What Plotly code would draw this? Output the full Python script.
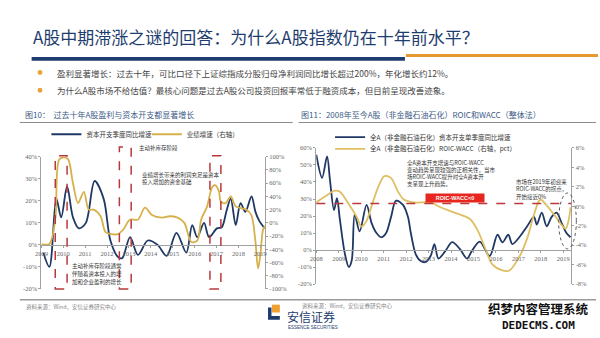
import plotly.graph_objects as go

W, H = 600, 338


def px(x):
    return x / W


def py(y):
    return 1 - y / H


# ---------------- data ----------------
# Figure 10 : capex growth (left axis, %) and profit growth (right axis, %)
c1_capex_x = [2009.09, 2009.36, 2009.68, 2009.9, 2010.17, 2010.44, 2010.71, 2011.03, 2011.43,
              2011.84, 2012.15, 2012.5, 2012.69, 2013.05, 2013.41, 2013.86, 2014.31, 2014.72,
              2015.17, 2015.62, 2015.89, 2016.12, 2016.43, 2016.66, 2017.02, 2017.24, 2017.46,
              2017.65, 2017.88, 2018.1, 2018.32, 2018.6, 2018.78, 2018.95, 2019.2]
c1_capex_y = [-3.6, -10, 21, 12.5, 26.5, 12.5, 7.5, 10, 29,
              21, 2, -5.5, -6, 3.5, -4.5, 2, 0, -5,
              5.5, -3.5, 9, 3.5, 10, 3.5, 7.5, 8, 15.5,
              21, 9, 19, 15, 22, 15, 11, 7.5]
c1_profit_x = [2009.0, 2009.36, 2009.63, 2009.81, 2010.04, 2010.22, 2010.44, 2010.67, 2010.94,
               2011.16, 2011.39, 2011.7, 2011.93, 2012.2, 2012.5, 2012.74, 2013.05, 2013.41,
               2013.73, 2014.05, 2014.5, 2014.86, 2015.22, 2015.53, 2015.85, 2016.12, 2016.3,
               2016.57, 2016.8, 2016.93, 2017.11, 2017.2, 2017.42, 2017.65, 2017.88, 2018.15,
               2018.37, 2018.59, 2018.77, 2018.9, 2019.0, 2019.13, 2019.22]
c1_profit_y = [-32, -32, 5, 96, 99, 96, 60, 30, 47,
               20, 20, 10, -14, -17, -17, -10, 5, 5,
               23, 12, 8, 10, 8, 0, -29, -27, 5,
               25, 54, 57, 48, 32, 30, 40, 25, 22,
               20, 12, -25, -69, -50, -10, -5]
c1_year_ticks = list(range(2009, 2020))
c1_left_ticks = [-20, -10, 0, 10, 20, 30, 40]
c1_right_ticks = [-100, -80, -60, -40, -20, 0, 20, 40, 60, 80, 100]

# Figure 11 : capex growth (left axis, %) and ROIC-WACC (right axis, pct)
c2_capex_x = [2008.0, 2008.26, 2008.48, 2008.61, 2008.79, 2008.92, 2009.05, 2009.27, 2009.45,
              2009.58, 2009.71, 2009.93, 2010.24, 2010.46, 2010.68, 2010.9, 2011.11, 2011.33,
              2011.55, 2011.86, 2012.08, 2012.21, 2012.43, 2012.65, 2012.87, 2013.09, 2013.26,
              2013.44, 2013.75, 2014.05, 2014.4, 2014.71, 2014.93, 2015.28, 2015.72, 2016.07,
              2016.29, 2016.55, 2016.73, 2017.04, 2017.39, 2017.69, 2017.82, 2018.04, 2018.26,
              2018.48, 2018.7, 2018.92, 2019.14, 2019.32]
c2_capex_y = [56, 42.5, 55, 41, 23.5, 30.5, 18, -2, -10,
              -6, 21, 11, 26.5, 16, 10, 7.5, 10, 19.5,
              29, 26.5, 19.5, 10, -2.5, -6.5, -7, -3.5, 3.5,
              -5, -0.5, 4.6, 0.5, -5, -0.5, 5, -3.5, 9,
              4.5, 9, 3.5, 7.5, 14, 19.5, 15, 22, 14,
              19.5, 22, 16, 10, 7.5]
c2_roic_x = [2008.0, 2008.39, 2008.83, 2009.05, 2009.45, 2009.8, 2010.02, 2010.24, 2010.46,
             2010.76, 2011.03, 2011.33, 2011.64, 2011.9, 2012.34, 2013.09, 2013.53, 2014.1,
             2014.84, 2015.19, 2015.5, 2015.85, 2016.29, 2016.6, 2017.04, 2017.39, 2017.65,
             2017.9, 2018.0, 2018.22, 2018.57, 2018.88, 2019.1, 2019.23, 2019.32]
c2_roic_y = [0.4, 1.0, 1.6, 1.5, 0.2, -1.1, -2.1, -1.5, 0.0,
             2.0, 3.1, 2.9, 1.5, 0.7, 0.4, 0.4, -0.1, -0.6,
             -1.3, -2.5, -4.2, -6.0, -6.6, -6.6, -5.2, -3.3, -1.2,
             0.5, 0.7, 0.2, -0.8, -1.8, -2.3, -1.5, -0.1]
c2_year_ticks = list(range(2008, 2020))
c2_left_ticks = [-20, -10, 0, 10, 20, 30, 40, 50, 60]
c2_right_ticks = [-8, -6, -4, -2, 0, 2, 4, 6]

NAVY = "#1f3864"
GOLD1 = "#d6b04a"
GOLD2 = "#dfbf62"
RED = "#b8383b"
AXC = "#a0a0a0"
CJK = "Noto Sans CJK SC"
SERIF = "Liberation Serif"

# ---------------- layout geometry ----------------
c1_xd = [px(35), px(262)]
c1_yd = [py(291), py(156)]
c2_xd = [px(314), px(573)]
c2_yd = [py(286), py(147)]
c1_zero = c1_yd[0] + (0 - c1_left_ticks[0]) / (c1_left_ticks[-1] - c1_left_ticks[0]) * (c1_yd[1] - c1_yd[0])
c2_zero = c2_yd[0] + (0 - c2_left_ticks[0]) / (c2_left_ticks[-1] - c2_left_ticks[0]) * (c2_yd[1] - c2_yd[0])

fig = go.Figure()
fig.add_trace(go.Scatter(x=c1_capex_x, y=c1_capex_y, mode="lines", name="资本开支季度同比增速",
                         line=dict(color=NAVY, width=1.8, shape="spline", smoothing=0.9),
                         xaxis="x", yaxis="y", legend="legend"))
fig.add_trace(go.Scatter(x=c1_profit_x, y=c1_profit_y, mode="lines", name="业绩增速（右轴）",
                         line=dict(color=GOLD1, width=1.8, shape="spline", smoothing=0.9),
                         xaxis="x", yaxis="y2", legend="legend2"))
fig.add_trace(go.Scatter(x=c2_capex_x, y=c2_capex_y, mode="lines",
                         name="全A（非金融石油石化）资本开支单季度同比增速",
                         line=dict(color=NAVY, width=1.8, shape="spline", smoothing=0.9),
                         xaxis="x2", yaxis="y3", legend="legend3"))
fig.add_trace(go.Scatter(x=c2_roic_x, y=c2_roic_y, mode="lines",
                         name="全A（非金融石油石化）ROIC-WACC（右轴，pct）",
                         line=dict(color=GOLD2, width=1.8, shape="spline", smoothing=0.9),
                         xaxis="x2", yaxis="y4", legend="legend4"))

tickfont = dict(family=SERIF, size=6.5, color="#666")
common_ax = dict(showgrid=False, zeroline=False, showline=True, linecolor=AXC, linewidth=1,
                 ticks="outside", ticklen=2, tickcolor=AXC, tickfont=tickfont, fixedrange=True)

legfont = dict(family=CJK, size=6.5, color="#333")


def leg(x, y):
    return dict(x=x, y=y, xanchor="left", yanchor="middle", orientation="h",
                bgcolor="rgba(0,0,0,0)", font=legfont, itemwidth=30, tracegroupgap=0)


fig.update_layout(
    width=W, height=H, margin=dict(l=0, r=0, t=0, b=0),
    paper_bgcolor="white", plot_bgcolor="white",
    font=dict(family=CJK, color="#333"),
    showlegend=True,
    xaxis=dict(domain=c1_xd, range=[2009, 2019.22], anchor="free", position=c1_zero,
               tickvals=c1_year_ticks, ticktext=[str(v) for v in c1_year_ticks], **common_ax),
    yaxis=dict(domain=c1_yd, range=[-20, 40], anchor="x", tickvals=c1_left_ticks,
               ticktext=[f"{v}%" for v in c1_left_ticks], **common_ax),
    yaxis2=dict(overlaying="y", side="right", anchor="x", range=[-100, 100],
                tickvals=c1_right_ticks, ticktext=[f"{v}%" for v in c1_right_ticks], **common_ax),
    xaxis2=dict(domain=c2_xd, range=[2008, 2019.36], anchor="free", position=c2_zero,
                tickvals=c2_year_ticks, ticktext=[str(v) for v in c2_year_ticks], **common_ax),
    yaxis3=dict(domain=c2_yd, range=[-20, 60], anchor="x2", tickvals=c2_left_ticks,
                ticktext=[f"{v}%" for v in c2_left_ticks], **common_ax),
    yaxis4=dict(overlaying="y3", side="right", anchor="x2", range=[-8, 6],
                tickvals=c2_right_ticks, ticktext=[f"{v}%" for v in c2_right_ticks], **common_ax),
    legend=leg(px(40), py(133)),
    legend2=leg(px(142), py(133)),
    legend3=leg(px(328), py(136)),
    legend4=leg(px(328), py(148)),
)

shapes = []
# title underline bars
shapes.append(dict(type="rect", xref="paper", yref="paper", x0=px(25), x1=px(404), y0=py(58), y1=py(54),
                   fillcolor="#1e3d6e", line=dict(width=0)))
shapes.append(dict(type="rect", xref="paper", yref="paper", x0=px(405), x1=px(600), y0=py(54), y1=py(51),
                   fillcolor="#e59a2f", line=dict(width=0)))
# chart title underlines
for a, b in [(13, 290), (296, 598)]:
    shapes.append(dict(type="line", xref="paper", yref="paper", x0=px(a), x1=px(b), y0=py(121), y1=py(121),
                       line=dict(color="#8a8a8a", width=1)))
# bottom rule
shapes.append(dict(type="line", xref="paper", yref="paper", x0=px(13), x1=px(598), y0=py(302), y1=py(302),
                   line=dict(color="#9a9a9a", width=1.5)))
# bullet dots
for yy in (70, 88):
    shapes.append(dict(type="circle", xref="paper", yref="paper", x0=px(31), x1=px(36),
                       y0=py(yy + 2.5), y1=py(yy - 2.5), fillcolor="#e8a33a", line=dict(width=0)))
# red dashed boxes on chart 1
for x0, x1, top in [(2009.63, 2010.17, 155), (2012.56, 2013.1, 146), (2016.7, 2017.2, 155)]:
    shapes.append(dict(type="rect", xref="x", yref="paper", x0=x0, x1=x1, y0=py(291), y1=py(top),
                       line=dict(color=RED, width=1.5, dash="dash"), fillcolor="rgba(0,0,0,0)"))
# ROIC-WACC = 0 dashed line on chart 2
shapes.append(dict(type="line", xref="paper", yref="y4", x0=px(314), x1=px(573), y0=0.3, y1=0.3,
                   line=dict(color=RED, width=1.5, dash="dash")))
# dashed ellipse on chart 2
shapes.append(dict(type="circle", xref="paper", yref="paper", x0=px(560), x1=px(578), y0=py(250), y1=py(193),
                   line=dict(color="#555", width=1, dash="dot")))
# logo
shapes.append(dict(type="rect", xref="paper", yref="paper", x0=px(269), x1=px(277), y0=py(315), y1=py(307),
                   fillcolor="#f0a030", line=dict(width=0)))
Lpts = [(265, 310), (268.5, 310), (268.5, 318.5), (277, 318.5), (277, 322.5), (265, 322.5)]
path = "M" + " L".join(f"{px(a):.5f},{py(b):.5f}" for a, b in Lpts) + " Z"
shapes.append(dict(type="path", xref="paper", yref="paper", path=path, fillcolor="#1d3c6e", line=dict(width=0)))
fig.update_layout(shapes=shapes)

ann = []


def T(x, y, s, size, color="#333", xanchor="left", family=CJK, bold=False, **kw):
    d = dict(xref="paper", yref="paper", x=px(x), y=py(y), text=s, showarrow=False,
             xanchor=xanchor, yanchor="middle", align="left",
             font=dict(family=family, size=size, color=color, weight=700 if bold else 400))
    d.update(kw)
    ann.append(d)


T(24, 33, "A股中期滞涨之谜的回答：为什么A股指数仍在十年前水平？", 17, "#1e3d6e")
T(49, 70, "盈利显著增长：过去十年，可比口径下上证综指成分股归母净利润同比增长超过200%，年化增长约12%。", 8.5, "#444")
T(49, 88, "为什么A股市场不给估值？最核心问题是过去A股公司投资回报率常低于融资成本，但目前呈现改善迹象。", 8.5, "#444")
T(16, 113, "图10：  过去十年A股盈利与资本开支都显著增长", 8, "#3b5a86")
T(296, 113, "图11：2008年至今A股（非金融石油石化）ROIC和WACC（整体法）", 8, "#3b5a86")

# chart 1 notes
T(132, 147, "主动补库存阶段", 5.5)
T(135, 175, "业绩增长带来的利润充足是资本", 5.5)
T(135, 182, "投入增加的资金基础", 5.5)
T(64, 268, "主动补库存阶段通常", 5.5)
T(64, 276, "伴随着资本投入的增", 5.5)
T(64, 284, "加和企业盈利的增长", 5.5)

# chart 2 notes
T(404, 162, "全A资本开支增速与ROIC-WACC", 5.5)
T(404, 169, "变动趋势呈现较强的正相关性，当市", 5.5)
T(404, 177, "场ROIC-WACC提升时全A资本开", 5.5)
T(404, 184, "支呈现上升趋势。", 5.5)
T(515, 182, "市场在2019年初迎来", 5.5)
T(515, 189, "ROIC-WACC的拐点，", 5.5)
T(515, 197, "开始接近0%", 5.5)
ann.append(dict(xref="paper", yref="paper", x=px(455), y=py(198), text="ROIC-WACC<0", showarrow=False,
                xanchor="center", yanchor="middle", bgcolor="#e8251f", width=58, height=8, borderpad=0,
                font=dict(family="Liberation Sans", size=5.5, color="white", weight=700)))

# sources
T(17, 309, "资料来源：Wind，安信证券研究中心", 5.5, "#888")
T(297, 308, "资料来源：Wind，安信证券研究中心", 5.5, "#888")

# logo text
T(282, 319, "安信证券", 12, "#1d3c6e")
T(283, 330, "ESSENCE SECURITIES", 4.5, "#1d3c6e", family="Liberation Sans")

# watermark
T(540, 311, "织梦内容管理系统", 12.5, "#111", xanchor="center", bold=True)
T(540, 328.5, "DEDECMS.COM", 11, "#111", xanchor="center", family="DejaVu Sans Mono", bold=True)

fig.update_layout(annotations=ann)

fig.write_html("out.html")
